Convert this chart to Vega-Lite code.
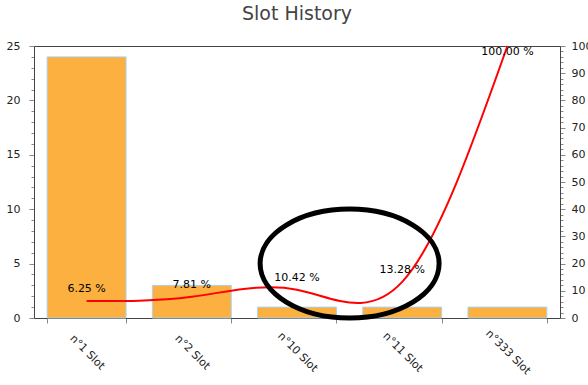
{
  "$schema": "https://vega.github.io/schema/vega-lite/v6.json",
  "width": 526,
  "height": 272,
  "autosize": "none",
  "padding": {"left": 34, "top": 46, "right": 28, "bottom": 67},
  "background": "white",
  "title": {"text": "Slot History", "font": "DejaVu Sans", "fontSize": 19, "fontWeight": "normal", "color": "#444", "offset": 16},
  "config": {
    "view": {"stroke": "#444", "strokeWidth": 1},
    "axis": {"labelFont": "DejaVu Sans", "labelFontSize": 11, "labelColor": "#222", "domainColor": "#444", "tickColor": "#888", "grid": false}
  },
  "datasets": {
    "slots": [
      {"slot": "n°1 Slot", "count": 24, "pct": 6.25, "label": "6.25 %"},
      {"slot": "n°2 Slot", "count": 3, "pct": 7.81, "label": "7.81 %"},
      {"slot": "n°10 Slot", "count": 1, "pct": 10.42, "label": "10.42 %"},
      {"slot": "n°11 Slot", "count": 1, "pct": 13.28, "label": "13.28 %"},
      {"slot": "n°333 Slot", "count": 1, "pct": 100, "label": "100.00 %"}
    ],
    "note": [{"pos": 3, "level": 5}]
  },
  "layer": [
    {
      "data": {"name": "slots"},
      "mark": {"type": "bar", "opacity": 0},
      "encoding": {
        "x": {"field": "slot", "type": "nominal", "sort": null, "axis": null},
        "y": {"field": "count", "type": "quantitative", "scale": {"domain": [0, 25], "nice": false},
          "axis": {"orient": "left", "title": null, "values": [0,1,2,3,4,5,6,7,8,9,10,11,12,13,14,15,16,17,18,19,20,21,22,23,24,25], "labels": false, "domain": false, "tickSize": 3}}
      }
    },
    {
      "data": {"name": "slots"},
      "mark": {"type": "line", "opacity": 0},
      "encoding": {
        "x": {"field": "slot", "type": "nominal", "sort": null, "axis": null},
        "y": {"field": "pct", "type": "quantitative", "scale": {"domain": [0, 100], "nice": false},
          "axis": {"orient": "right", "title": null, "values": [0,2,4,6,8,10,12,14,16,18,20,22,24,26,28,30,32,34,36,38,40,42,44,46,48,50,52,54,56,58,60,62,64,66,68,70,72,74,76,78,80,82,84,86,88,90,92,94,96,98,100], "labels": false, "domain": false, "tickSize": 3}}
      }
    },
    {
      "data": {"name": "slots"},
      "mark": {"type": "bar", "fill": "#FBB040", "stroke": "#A9D3F2", "strokeWidth": 1},
      "encoding": {
        "x": {"field": "slot", "type": "nominal", "sort": null,
          "scale": {"paddingInner": 0.25, "paddingOuter": 0.125},
          "axis": {"title": null, "labelAngle": 45, "labelAlign": "center", "labelBaseline": "middle", "labelPadding": 29, "tickSize": 5, "tickBand": "extent", "domainColor": "#444"}},
        "y": {"field": "count", "type": "quantitative", "scale": {"domain": [0, 25], "nice": false},
          "axis": {"orient": "left", "title": null, "values": [0, 5, 10, 15, 20, 25], "tickSize": 5, "labelPadding": 9}}
      }
    },
    {
      "data": {"name": "slots"},
      "mark": {"type": "line", "color": "#FF0000", "strokeWidth": 2, "interpolate": "natural"},
      "encoding": {
        "x": {"field": "slot", "type": "nominal", "sort": null, "axis": null},
        "y": {"field": "pct", "type": "quantitative", "scale": {"domain": [0, 100], "nice": false},
          "axis": {"orient": "right", "title": null, "values": [0, 10, 20, 30, 40, 50, 60, 70, 80, 90, 100], "tickSize": 5, "labelPadding": 6}}
      }
    },
    {
      "data": {"name": "slots"},
      "transform": [{"filter": "datum.pct < 100"}],
      "mark": {"type": "text", "font": "DejaVu Sans", "fontSize": 11, "color": "#000", "baseline": "middle", "dy": -12},
      "encoding": {
        "x": {"field": "slot", "type": "nominal", "axis": null,
          "scale": {"domain": ["n°1 Slot", "n°2 Slot", "n°10 Slot", "n°11 Slot", "n°333 Slot"]}},
        "y": {"field": "pct", "type": "quantitative", "scale": {"domain": [0, 100], "nice": false}, "axis": null},
        "text": {"field": "label"}
      }
    },
    {
      "data": {"name": "slots"},
      "transform": [{"filter": "datum.pct >= 100"}],
      "mark": {"type": "text", "font": "DejaVu Sans", "fontSize": 11, "color": "#000", "baseline": "middle", "dy": 6},
      "encoding": {
        "x": {"field": "slot", "type": "nominal", "axis": null,
          "scale": {"domain": ["n°1 Slot", "n°2 Slot", "n°10 Slot", "n°11 Slot", "n°333 Slot"]}},
        "y": {"field": "pct", "type": "quantitative", "scale": {"domain": [0, 100], "nice": false}, "axis": null},
        "text": {"field": "label"}
      }
    },
    {
      "data": {"name": "note"},
      "mark": {"type": "point", "filled": false, "stroke": "#000", "strokeWidth": 5, "opacity": 1, "size": 32041,
        "shape": "M1,0 C1,0.3364 0.5523,0.609 0,0.609 C-0.5523,0.609 -1,0.3364 -1,0 C-1,-0.3364 -0.5523,-0.609 0,-0.609 C0.5523,-0.609 1,-0.3364 1,0 Z"},
      "encoding": {
        "x": {"field": "pos", "type": "quantitative", "scale": {"domain": [0, 5], "nice": false}, "axis": null},
        "y": {"field": "level", "type": "quantitative", "scale": {"domain": [0, 25], "nice": false}, "axis": null}
      }
    }
  ],
  "resolve": {"scale": {"x": "independent", "y": "independent"}}
}
